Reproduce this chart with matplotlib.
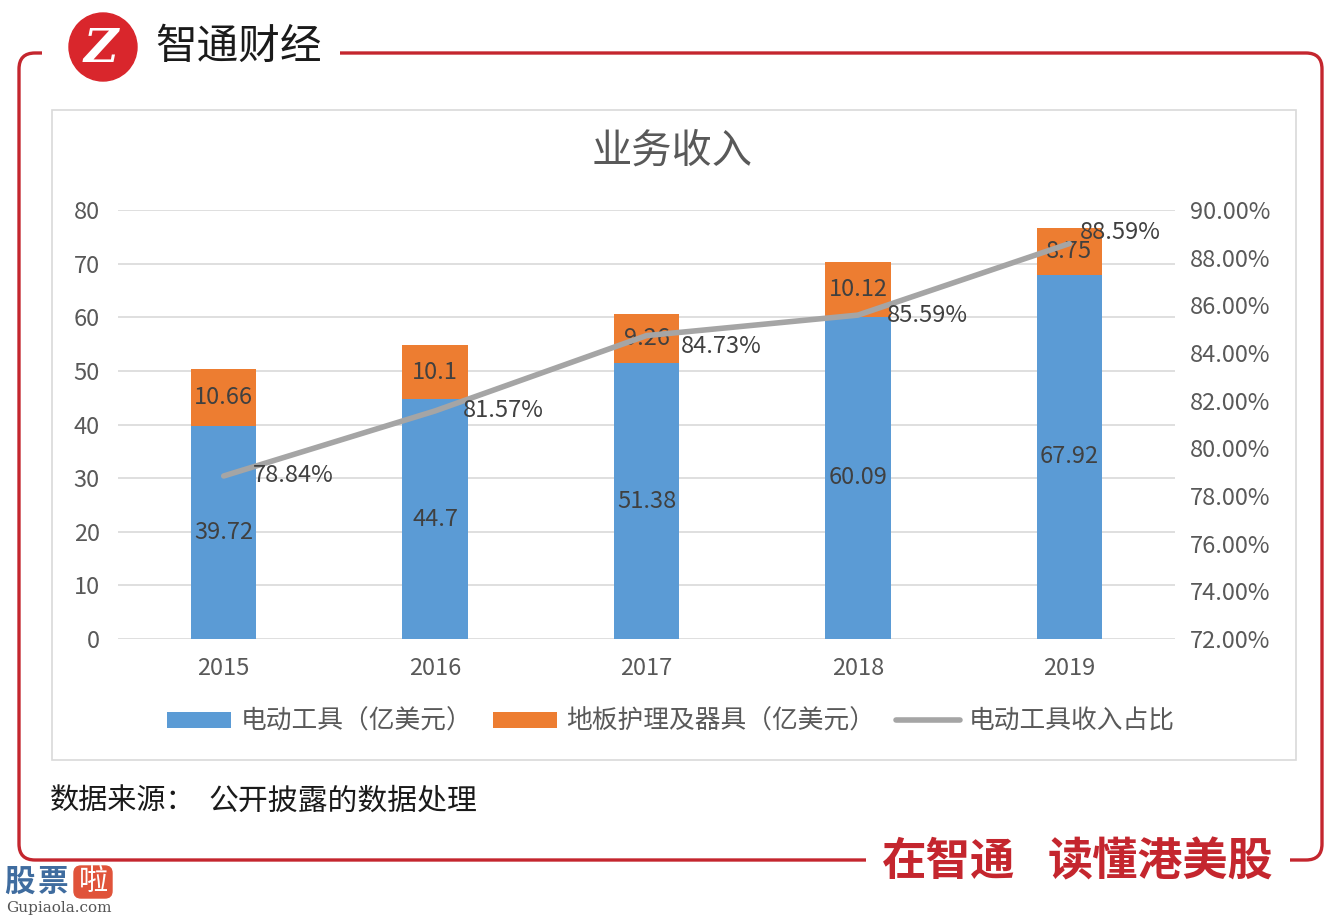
import numpy as np
import matplotlib
matplotlib.use("Agg")
import matplotlib.pyplot as plt
from matplotlib.path import Path
from matplotlib.patches import PathPatch, Circle, Rectangle, FancyBboxPatch
from matplotlib.ticker import FuncFormatter

plt.rcParams['font.family'] = ['Noto Sans CJK SC', 'DejaVu Sans']

# data
years = ['2015', '2016', '2017', '2018', '2019']
power_tools = [39.72, 44.7, 51.38, 60.09, 67.92]   # 电动工具（亿美元）
floor_care = [10.66, 10.1, 9.26, 10.12, 8.75]      # 地板护理及器具（亿美元）
share_pct = [78.84, 81.57, 84.73, 85.59, 88.59]    # 电动工具收入占比
label_dx = [29, 28, 34, 29, 11]    # px, percent label nudges
label_dy = [0, 0, -11, 0, 11]

blue = '#5B9BD5'
orange = '#ED7D31'
gray = '#A5A5A5'
red = '#C4262E'
txt = '#595959'

W, H = 1344, 918
fig = plt.figure(figsize=(W / 100, H / 100), dpi=100)

# background layer in pixel coords
bg = fig.add_axes([0, 0, 1, 1])
bg.set_xlim(0, W)
bg.set_ylim(H, 0)
bg.axis('off')


def rounded(pts, r):
    verts = [pts[0]]
    codes = [Path.MOVETO]
    for i in range(1, len(pts) - 1):
        p0, p1, p2 = (np.array(pts[i - 1], float), np.array(pts[i], float),
                      np.array(pts[i + 1], float))
        a = p1 + (p0 - p1) / np.linalg.norm(p0 - p1) * r
        b = p1 + (p2 - p1) / np.linalg.norm(p2 - p1) * r
        verts += [a, p1, b]
        codes += [Path.LINETO, Path.CURVE3, Path.CURVE3]
    verts.append(pts[-1])
    codes.append(Path.LINETO)
    return Path(verts, codes)


# red outer frame (two pieces, gaps for logo and slogan)
for pts in ([(42, 53), (19, 53), (19, 860), (866, 860)],
            [(340, 53), (1322, 53), (1322, 860), (1290, 860)]):
    bg.add_patch(PathPatch(rounded(pts, 16), fill=False, edgecolor=red, lw=2.4,
                           capstyle='butt'))

# light gray chart box
bg.add_patch(Rectangle((52, 110), 1244, 650, fill=False, edgecolor='#D9D9D9', lw=1.2))

# logo
bg.add_patch(Circle((103, 47), 34, color='#D9262C', zorder=3))
bg.text(101, 49, 'Z', color='white', fontsize=34, fontweight='bold', style='italic',
        family='DejaVu Serif', ha='center', va='center', zorder=4)
bg.text(155, 47, '智通财经', fontsize=30, color='#1A1A1A', ha='left', va='center',
        fontweight='light')

# slogan
bg.text(882, 862, '在智通', fontsize=32, color=red, fontweight='bold', ha='left', va='center')
bg.text(1048, 862, '读懂港美股', fontsize=32.5, color=red, fontweight='bold', ha='left',
        va='center')

# watermark
bg.text(4, 882, '股', fontsize=22, color='#3F6C9F', fontweight='bold', ha='left', va='center')
bg.text(38, 882, '票', fontsize=22, color='#3F6C9F', fontweight='bold', ha='left', va='center')
bg.add_patch(FancyBboxPatch((74, 866), 38, 32, boxstyle='round,pad=0,rounding_size=7',
                            color='#E0533A'))
bg.text(93, 882, '啦', fontsize=21, color='white', ha='center', va='center')
bg.text(59, 908, 'Gupiaola.com', fontsize=11, color='#555555', family='DejaVu Serif',
        ha='center', va='center')

# title and source
bg.text(672, 151, '业务收入', fontsize=29, color=txt, ha='center', va='center')
bg.text(50, 801, '数据来源：', fontsize=21, color='#1A1A1A', ha='left', va='center')
bg.text(208, 801, '公开披露的数据处理', fontsize=21.5, color='#1A1A1A', ha='left',
        va='center')

# main chart
ax = fig.add_axes([118 / W, 1 - 639 / H, (1175 - 118) / W, (639 - 210) / H])
x = np.arange(len(years))
bw = 0.31
b1 = ax.bar(x, power_tools, bw, color=blue, zorder=2, label='电动工具（亿美元）')
b2 = ax.bar(x, floor_care, bw, bottom=power_tools, color=orange, zorder=2,
            label='地板护理及器具（亿美元）')
ax.bar_label(b1, labels=[f'{v:g}' for v in power_tools], label_type='center',
             fontsize=17, color='#404040')
ax.bar_label(b2, labels=[f'{v:g}' for v in floor_care], label_type='center',
             fontsize=17, color='#404040')

ax.set_xlim(-0.5, len(years) - 0.5)
ax.set_ylim(0, 80)
ax.set_yticks(range(0, 81, 10))
ax.set_xticks(x)
ax.set_xticklabels(years)
ax.yaxis.grid(True, color='#D9D9D9', lw=1.2, zorder=0)
ax.set_axisbelow(True)
for s in ax.spines.values():
    s.set_visible(False)
ax.tick_params(axis='y', length=0, pad=13, labelsize=17, labelcolor=txt)
ax.tick_params(axis='x', length=0, pad=13, labelsize=17, labelcolor=txt)
ax.patch.set_alpha(0)

ax2 = ax.twinx()
ax2.set_ylim(72, 90)
ax2.set_yticks(np.arange(72, 90.1, 2))
ax2.yaxis.set_major_formatter(FuncFormatter(lambda v, p: f'{v:.2f}%'))
for s in ax2.spines.values():
    s.set_visible(False)
ax2.tick_params(axis='y', length=0, pad=11, labelsize=17, labelcolor=txt)
ln, = ax2.plot(x, share_pct, color=gray, lw=4, solid_capstyle='round', zorder=3,
               label='电动工具收入占比')
for xi, v, dx, dy in zip(x, share_pct, label_dx, label_dy):
    ax2.annotate(f'{v:.2f}%', (xi, v), xytext=(dx * 0.72, dy * 0.72),
                 textcoords='offset points', ha='left', va='center', fontsize=17,
                 color='#404040', zorder=4)

fig.legend(handles=[b1, b2, ln], loc='center', bbox_to_anchor=(671 / W, 1 - 722 / H),
           ncol=3, frameon=False, fontsize=18.5, labelcolor=txt, handlelength=2.5,
           handleheight=0.6, handletextpad=0.35, columnspacing=0.8)

fig.savefig('out.png', dpi=100)
